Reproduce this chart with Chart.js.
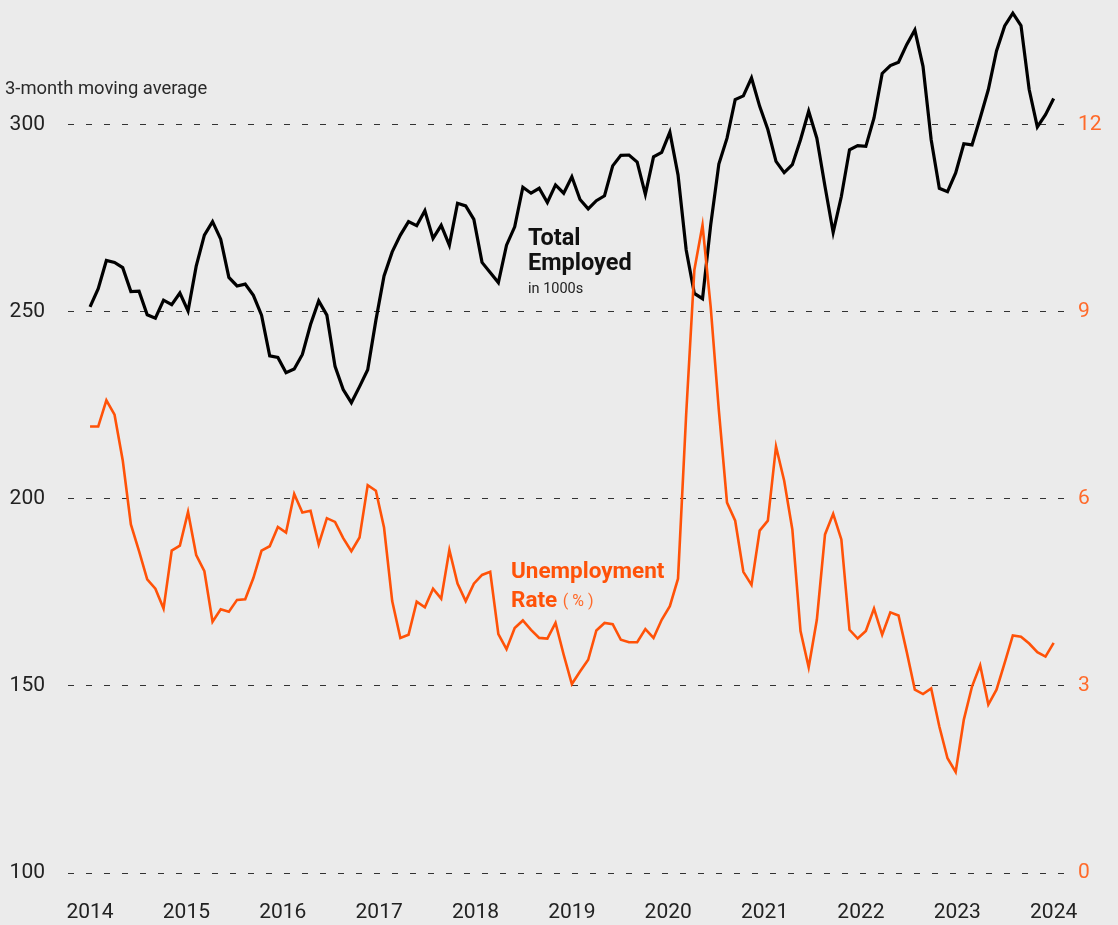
<!DOCTYPE html>
<html><head><meta charset="utf-8">
<script src="https://cdn.jsdelivr.net/npm/chart.js@4"></script>
<style>
html,body{margin:0;padding:0;background:#ebebeb;}
#wrap{position:relative;width:1118px;height:925px;}
canvas{display:block}
</style>
</head><body>
<div id="wrap"><canvas id="c" width="1118" height="925"></canvas></div>
<script>
const yearLabels = ['2014','2015','2016','2017','2018','2019','2020','2021','2022','2023','2024'];
const employedTicks = [100,150,200,250,300];
const rateTicks = [0,3,6,9,12];

// Total employed, 3-month moving average, in 1000s (monthly, Jan 2014 onward)
const totalEmployed = [
  251.3,256.2,263.7,263.2,261.8,255.4,255.5,249.2,248.3,253.1,
  251.9,255.0,250.2,262.2,270.5,274.1,269.4,259.2,256.9,257.4,
  254.4,249.1,238.2,237.8,233.7,234.7,238.6,246.6,252.9,249.1,
  235.4,229.2,225.7,230.0,234.5,247.7,259.6,266.0,270.5,274.1,
  273.0,277.0,269.6,273.1,267.8,279.0,278.3,274.7,263.2,260.5,
  257.8,267.8,272.7,283.3,281.7,283.0,279.2,283.9,281.7,286.1,
  280.0,277.5,279.7,281.0,289.0,291.8,291.9,290.0,281.4,291.4,
  292.6,298.0,286.6,266.5,254.9,253.5,273.2,289.5,296.4,306.7,
  307.7,312.5,304.9,298.7,290.2,287.2,289.3,296.0,303.6,296.4,
  283.5,271.2,280.8,293.3,294.4,294.2,301.8,313.7,315.8,316.7,
  321.4,325.3,315.6,296.0,283.0,282.1,287.1,294.9,294.6,301.8,
  309.4,319.7,326.4,329.8,326.5,309.4,299.4,302.7,307.0
];
// Unemployment rate, %
const unemploymentRate = [
  7.16,7.16,7.58,7.35,6.62,5.59,5.16,4.71,4.56,4.24,
  5.17,5.25,5.79,5.10,4.84,4.03,4.23,4.19,4.38,4.39,
  4.73,5.17,5.24,5.55,5.46,6.08,5.78,5.81,5.27,5.69,
  5.63,5.37,5.16,5.38,6.22,6.13,5.54,4.36,3.77,3.82,
  4.35,4.26,4.56,4.40,5.18,4.64,4.36,4.64,4.78,4.83,
  3.83,3.59,3.93,4.05,3.90,3.77,3.76,4.01,3.50,3.03,
  3.23,3.42,3.89,4.01,3.99,3.74,3.70,3.70,3.91,3.77,
  4.06,4.28,4.72,7.36,9.67,10.39,9.08,7.42,5.94,5.65,
  4.83,4.62,5.49,5.65,6.84,6.29,5.51,3.88,3.30,4.06,
  5.43,5.76,5.35,3.90,3.76,3.88,4.24,3.82,4.18,4.13,
  3.55,2.94,2.87,2.96,2.35,1.84,1.62,2.46,2.99,3.33,
  2.70,2.94,3.37,3.81,3.79,3.68,3.54,3.47,3.69
];

const ORANGE = '#ff5208';
const FONT = 'Roboto, "Noto Sans", sans-serif';
const perYear = (totalEmployed.length - 1) / (yearLabels.length - 1);

const annotations = {
  id: 'annotations',
  afterDraw(chart) {
    const ctx = chart.ctx;
    ctx.save();
    ctx.textBaseline = 'middle';
    ctx.textAlign = 'left';
    ctx.fillStyle = '#2a2a2a';
    ctx.font = '18.4px ' + FONT;
    ctx.fillText('3-month moving average', 5, 89);

    ctx.fillStyle = '#111';
    ctx.font = 'bold 23.5px ' + FONT;
    ctx.fillText('Total', 528, 239);
    ctx.fillText('Employed', 528, 264);
    ctx.font = '14.5px ' + FONT;
    ctx.fillStyle = '#222';
    ctx.fillText('in 1000s', 528, 289);

    ctx.fillStyle = ORANGE;
    ctx.font = 'bold 22.5px ' + FONT;
    ctx.fillText('Unemployment', 511, 572);
    ctx.fillText('Rate', 511, 601);
    const w = ctx.measureText('Rate ').width;
    ctx.font = '16px ' + FONT;
    ctx.fillStyle = '#ff6a2a';
    ctx.fillText('( % )', 511 + w, 602);
    ctx.restore();
  }
};

const noPad = (s) => { s.paddingTop = 0; s.paddingBottom = 0; };

new Chart(document.getElementById('c'), {
  type: 'line',
  data: {
    datasets: [
      {
        label: 'Unemployment Rate (%)',
        data: unemploymentRate.map((v, i) => ({x: i, y: v})),
        yAxisID: 'y1',
        borderColor: ORANGE,
        borderWidth: 2.6,
        pointRadius: 0,
        tension: 0,
        borderJoinStyle: 'miter'
      },
      {
        label: 'Total Employed',
        data: totalEmployed.map((v, i) => ({x: i, y: v})),
        yAxisID: 'y',
        borderColor: '#000',
        borderWidth: 3.2,
        pointRadius: 0,
        tension: 0,
        borderJoinStyle: 'miter'
      }
    ]
  },
  options: {
    responsive: false,
    animation: false,
    devicePixelRatio: 1,
    layout: {padding: 0},
    plugins: {legend: {display: false}, tooltip: {enabled: false}},
    scales: {
      x: {
        type: 'linear',
        min: -2.7,
        max: 120,
        grid: {display: false, drawTicks: false},
        border: {display: false},
        afterBuildTicks: (axis) => { axis.ticks = yearLabels.map((l, k) => ({value: k * perYear})); },
        ticks: {
          autoSkip: false, maxRotation: 0, padding: 27,
          color: '#222', font: {family: FONT, size: 21},
          callback: (v, idx) => yearLabels[idx]
        },
        afterFit: (s) => { s.height = 52; s.paddingLeft = 0; s.paddingRight = 0; }
      },
      y: {
        position: 'left',
        min: 100,
        max: 333.33,
        afterBuildTicks: (axis) => { axis.ticks = employedTicks.map(v => ({value: v})); },
        grid: {color: '#333', lineWidth: 1, drawTicks: false},
        border: {display: false, dash: [6, 12]},
        ticks: {padding: 23, color: '#222', font: {family: FONT, size: 21}},
        afterFit: (s) => { s.width = 68; noPad(s); }
      },
      y1: {
        position: 'right',
        min: 0,
        max: 14,
        afterBuildTicks: (axis) => { axis.ticks = rateTicks.map(v => ({value: v})); },
        grid: {display: false, drawTicks: false},
        border: {display: false},
        ticks: {padding: 8, color: '#ff6a2a', font: {family: FONT, size: 21}},
        afterFit: (s) => { s.width = 48; noPad(s); }
      }
    }
  },
  plugins: [annotations]
});
</script>
</body></html>
